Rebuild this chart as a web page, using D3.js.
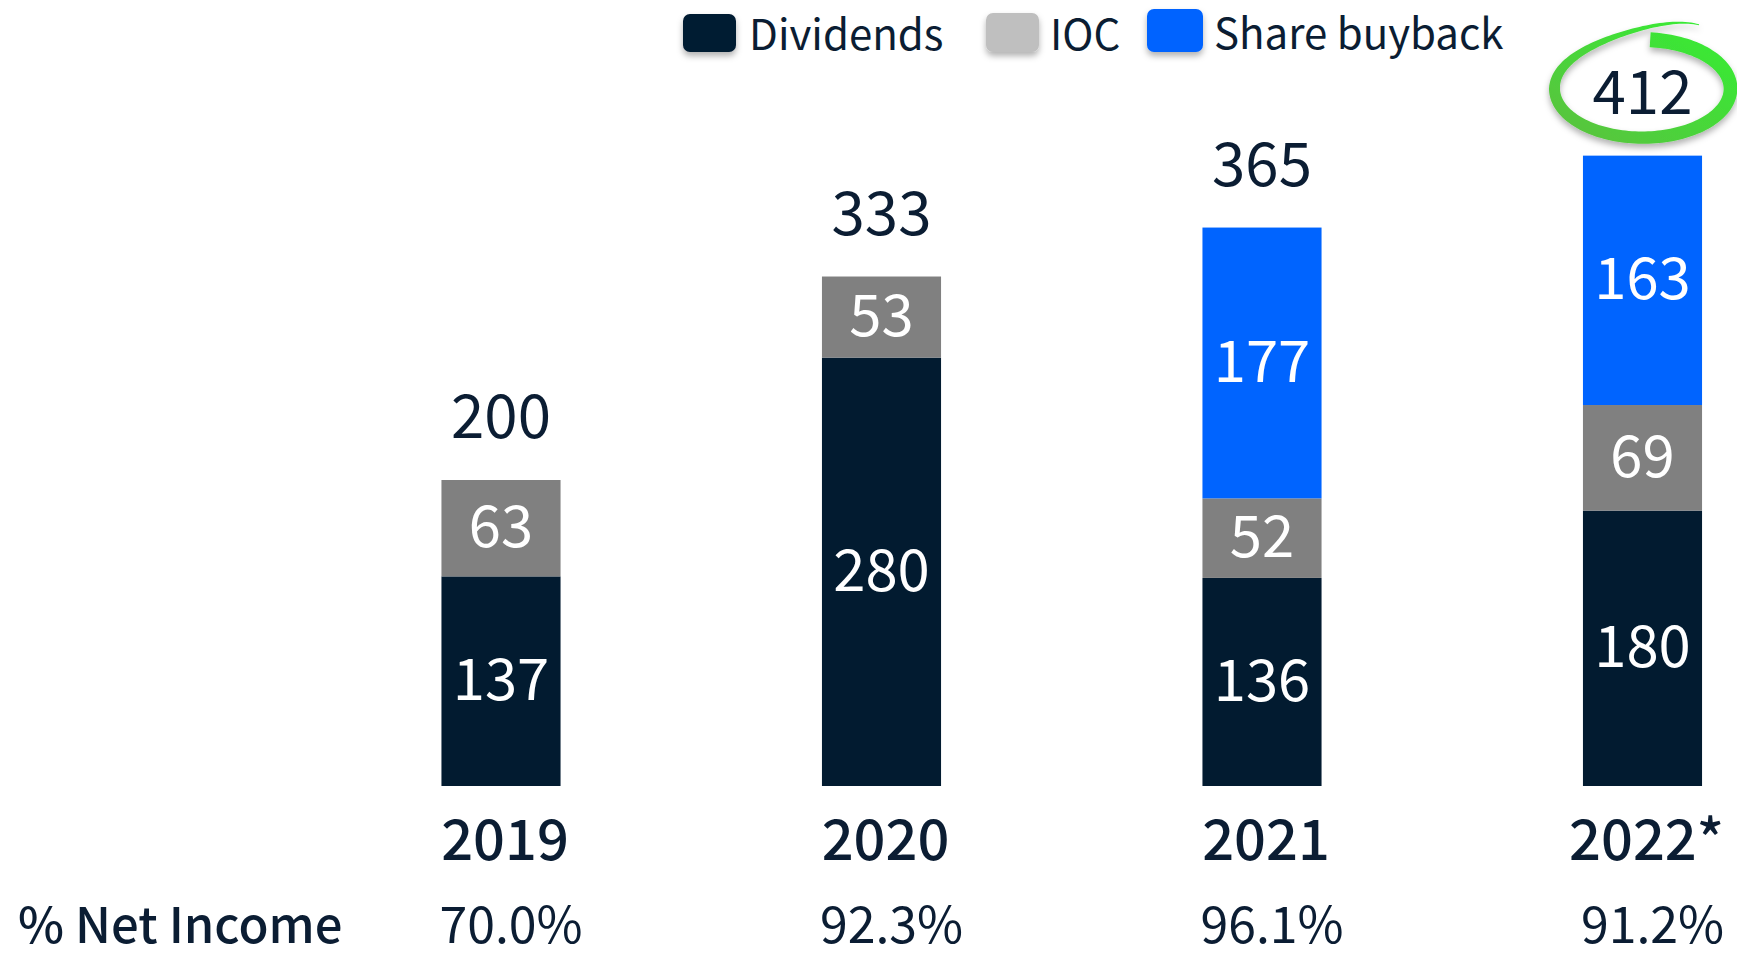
<!DOCTYPE html>
<html><head><meta charset="utf-8">
<script src="https://cdn.jsdelivr.net/npm/d3@7"></script>
<style>html,body{margin:0;padding:0;background:#fff;overflow:hidden}</style>
</head><body><svg id="c" width="1737" height="957"></svg>
<script>
const years = ["2019", "2020", "2021", "2022*"];
const dividends = [137, 280, 136, 180];
const ioc = [63, 53, 52, 69];
const buyback = [0, 0, 177, 163];
const totals = [200, 333, 365, 412];
const netIncomePct = ["70.0%", "92.3%", "96.1%", "91.2%"];
const seriesKeys = ["Dividends", "IOC", "Share buyback"];
const rowLabel = "% Net Income";

const FONT = "'Noto Sans CJK SC', 'Source Sans Pro', 'Noto Sans', sans-serif";
const TEXT = "#0b1d33";
const barColors = {"Dividends": "#021b30", "IOC": "#808080", "Share buyback": "#0064ff"};
const legendColors = {"Dividends": "#021b30", "IOC": "#bfbfbf", "Share buyback": "#0064ff"};

const rows = years.map((yr, i) => ({year: yr, "Dividends": dividends[i], "IOC": ioc[i], "Share buyback": buyback[i], total: totals[i], pct: netIncomePct[i]}));

const svg = d3.select("#c");
const defs = svg.append("defs");
const sh = defs.append("filter").attr("id", "sh").attr("x", "-30%").attr("y", "-30%").attr("width", "160%").attr("height", "180%");
sh.append("feDropShadow").attr("dx", 0).attr("dy", 4).attr("stdDeviation", 3).attr("flood-color", "#000").attr("flood-opacity", 0.3);
const g1 = defs.append("linearGradient").attr("id", "gr").attr("x1", "100%").attr("y1", "0%").attr("x2", "0%").attr("y2", "100%");
g1.append("stop").attr("offset", "0%").attr("stop-color", "#33f033");
g1.append("stop").attr("offset", "100%").attr("stop-color", "#5cbf40");

const x = d3.scaleBand().domain(years).range([310.75, 1832.75]).paddingInner(0.687).paddingOuter(0.3435);
const y = d3.scaleLinear().domain([0, d3.max(totals)]).range([786, 786 - 1.53 * d3.max(totals)]);

const stack = d3.stack().keys(seriesKeys)(rows);

const layers = svg.append("g").selectAll("g").data(stack).join("g")
  .attr("fill", d => barColors[d.key]);
layers.selectAll("rect").data(d => d.filter(s => s[1] - s[0] > 0)).join("rect")
  .attr("x", d => x(d.data.year))
  .attr("width", x.bandwidth())
  .attr("y", d => y(d[1]))
  .attr("height", d => y(d[0]) - y(d[1]));

// segment labels
const segLabels = svg.append("g");
stack.forEach(layer => {
  layer.filter(s => s[1] - s[0] > 0).forEach(s => {
    segLabels.append("text")
      .attr("x", x(s.data.year) + x.bandwidth() / 2)
      .attr("y", (y(s[0]) + y(s[1])) / 2)
      .attr("dy", "0.33em")
      .attr("text-anchor", "middle")
      .attr("fill", "#fff")
      .style("font-family", FONT).style("font-size", "58px").style("font-weight", 400)
      .text(s[1] - s[0]);
  });
});

// totals
svg.append("g").selectAll("text").data(rows).join("text")
  .attr("x", d => x(d.year) + x.bandwidth() / 2)
  .attr("y", d => y(d.total) - 42)
  .attr("text-anchor", "middle")
  .attr("fill", TEXT)
  .style("font-family", FONT).style("font-size", "60px").style("font-weight", 400)
  .text(d => d.total);

// year axis
const xAxis = svg.append("g").attr("transform", "translate(4,860)")
  .call(d3.axisBottom(x).tickSize(0).tickPadding(0));
xAxis.select(".domain").remove();
xAxis.selectAll("text").attr("dy", 0).attr("fill", TEXT)
  .style("font-family", FONT).style("font-size", "56px").style("font-weight", 500);

// % Net Income row
svg.append("text").attr("x", 18).attr("y", 943).attr("fill", TEXT)
  .style("font-family", FONT).style("font-size", "49px").style("font-weight", 500)
  .text(rowLabel);
svg.append("g").selectAll("text").data(rows).join("text")
  .attr("x", d => x(d.year) - 2)
  .attr("y", 943)
  .attr("fill", TEXT)
  .style("font-family", FONT).style("font-size", "50px").style("font-weight", 400)
  .text(d => d.pct);

// legend
const legendLayout = [
  {sx: 683, sy: 14, sw: 53, sh: 38, tx: 749, ty: 50},
  {sx: 986, sy: 13, sw: 53, sh: 39, tx: 1050, ty: 50},
  {sx: 1147, sy: 9, sw: 56, sh: 43, tx: 1214, ty: 49}
];
const lg = svg.append("g");
seriesKeys.forEach((k, i) => {
  const L = legendLayout[i];
  lg.append("rect").attr("x", L.sx).attr("y", L.sy).attr("width", L.sw).attr("height", L.sh)
    .attr("rx", 7).attr("fill", legendColors[k]).attr("filter", "url(#sh)");
  lg.append("text").attr("x", L.tx).attr("y", L.ty).attr("fill", TEXT)
    .style("font-family", FONT).style("font-size", "42px").style("font-weight", 400)
    .text(k);
});

// hand-drawn highlight ring around the largest total
const iMax = totals.indexOf(d3.max(totals));
const cx = x(years[iMax]) + x.bandwidth() / 2;
const cy = y(totals[iMax]) - 42 - 25;
const rx = 88, ry = 49;
const N = 180, th0 = -85, th1 = 310;
const pts = [];
for (let i = 0; i <= N; i++) {
  const th = th0 + (th1 - th0) * i / N;
  const m = th > 180 ? 1 + 0.55 * Math.pow((th - 180) / 120, 3) : 1;
  const r = th * Math.PI / 180;
  const w = th < 180 ? 15 - 4 * (th - th0) / (180 - th0) : 11 - 10 * (th - 180) / (th1 - 180);
  pts.push({x: cx + rx * Math.cos(r), y: cy + ry * m * Math.sin(r), w});
}
const outer = [], inner = [];
pts.forEach((p, i) => {
  const a = pts[Math.max(0, i - 1)], b = pts[Math.min(N, i + 1)];
  let dx = b.x - a.x, dy = b.y - a.y;
  const len = Math.hypot(dx, dy) || 1;
  const nx = dy / len, ny = -dx / len;
  outer.push([p.x + nx * p.w / 2, p.y + ny * p.w / 2]);
  inner.push([p.x - nx * p.w / 2, p.y - ny * p.w / 2]);
});
const poly = outer.concat(inner.reverse());
svg.append("path").attr("d", d3.line().curve(d3.curveLinearClosed)(poly))
  .attr("fill", "url(#gr)").attr("filter", "url(#sh)");
</script></body></html>
